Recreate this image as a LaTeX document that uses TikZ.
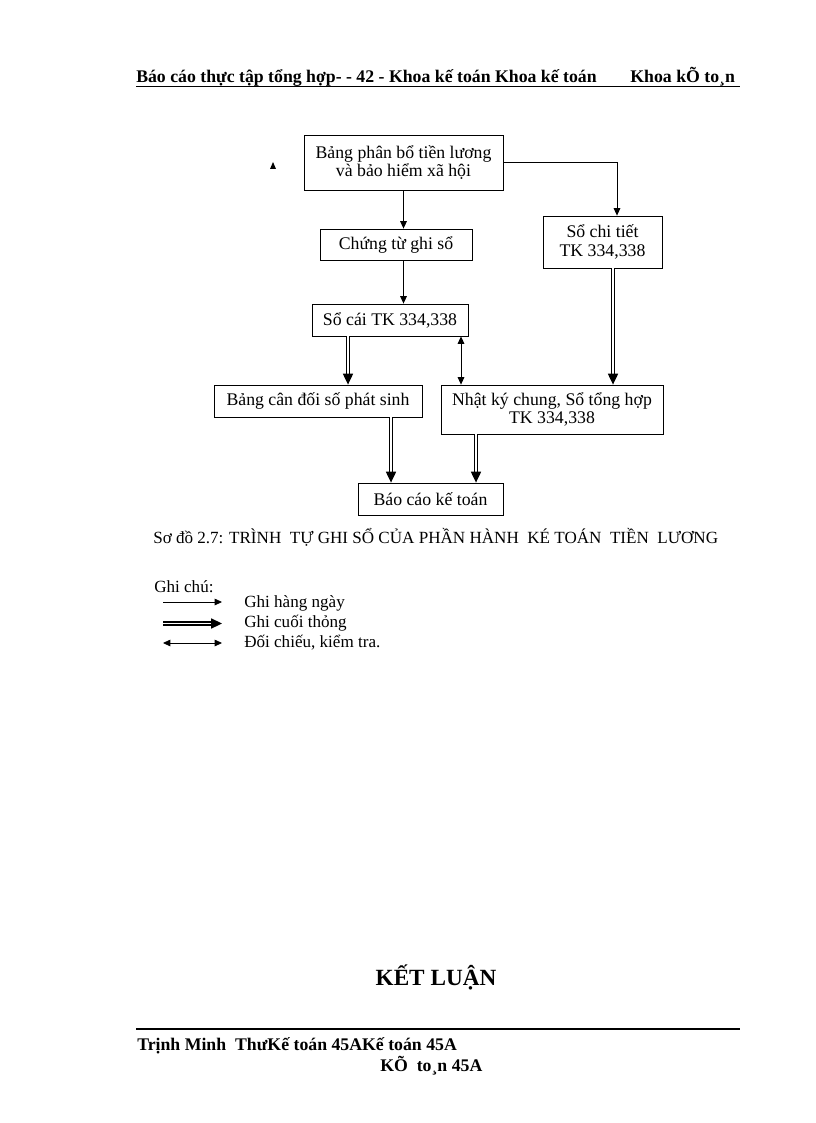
\documentclass[tikz,border=0pt]{standalone}
\usepackage{fontspec}
\setmainfont{Liberation Serif}
\usepackage{tikz}
\usetikzlibrary{arrows.meta,positioning}
\newcommand{\pxl}{0.25735mm}
\tikzset{ledger node/.style={draw, line width=0.6pt, inner sep=0pt, align=center,
    font=\fontsize{13}{13.5}\selectfont}}
\tikzset{daily edge/.style={draw, line width=0.6pt, -{Triangle[length=1.9mm,width=1.7mm]}}}
\tikzset{period edge/.style={draw, double, line width=0.33mm, double distance=0.38mm,
    -{Triangle[length=2.8mm,width=2.6mm]}}}
\tikzset{check edge/.style={draw, line width=0.6pt,
    {Triangle[length=1.9mm,width=1.7mm]}-{Triangle[length=1.9mm,width=1.7mm]}}}
\tikzset{comment/.style={inner sep=0pt, anchor=base west, font=\fontsize{12.5}{14}\selectfont}}
\tikzset{page text/.style={inner sep=0pt, anchor=base west, font=\fontsize{13}{14}\selectfont\bfseries}}

\begin{document}
\begin{tikzpicture}
      [x=\pxl, y=-\pxl]
      \fill [white] (0,0) rectangle (816,1123);

      % header and footer
      \node [page text] (head) at (136,83) {Báo cáo thực tập tổng hợp- - 42 - Khoa kế toán Khoa kế toán\hspace{1.9em}Khoa kÕ to¸n};
      \coordinate (headl) at (136,86);
      \coordinate (headr) at (740,86);
      \draw [line width=0.6pt] (headl) -- (headr);

      \node [page text, anchor=base, font=\fontsize{17}{18}\selectfont\bfseries] (concl) at (436,985) {KẾT LUẬN};

      \coordinate (footl) at (136,1029);
      \coordinate (footr) at (740,1029);
      \draw [line width=1.2pt] (footl) -- (footr);
      \node [page text] (foot1) at (137,1050) {Trịnh Minh\ \ ThưKế toán 45AKế toán 45A};
      \node [page text] (foot2) at (380,1071) {KÕ\ \ to¸n 45A};

      % ledgers
      \node [ledger node, minimum width=199*\pxl, minimum height=55*\pxl] (pbo)   at (403.5,162.5) {Bảng phân bổ tiền lương\\và bảo hiểm xã hội};
      \node [ledger node, minimum width=152*\pxl, minimum height=31*\pxl] (ctgs)  at (396,244.5)   {Chứng từ ghi sổ};
      \node [ledger node, minimum width=119*\pxl, minimum height=52*\pxl] (sct)   at (602.5,242)   {Sổ chi tiết\\TK 334,338};
      \node [ledger node, minimum width=156*\pxl, minimum height=32*\pxl] (socai) at (390,320)     {Sổ cái TK 334,338};
      \node [ledger node, minimum width=208*\pxl, minimum height=32*\pxl] (bcd)   at (318,401)     {Bảng\ cân đối số phát\ sinh};
      \node [ledger node, minimum width=222*\pxl, minimum height=49*\pxl] (nkc)   at (552,409.5)   {Nhật ký chung, Sổ tổng hợp\\TK\ 334,338};
      \node [ledger node, minimum width=145*\pxl, minimum height=32*\pxl] (bckt)  at (430.5,499)   {Báo cáo kế toán};

      \fill (270,169) -- (276,169) -- (273,162) -- cycle;

      \draw [daily edge]  (pbo.south)                  -- (pbo.south |- ctgs.north);
      \draw [daily edge]  (pbo.east)                   -| ([xshift=14.5*\pxl]sct.north);
      \draw [daily edge]  (ctgs.south -| pbo.south)    -- (socai.north -| pbo.south);
      \draw [period edge] ([xshift=-42*\pxl]socai.south) -- ([xshift=-42*\pxl]socai.south |- bcd.north);
      \draw [check edge]  ([xshift=71*\pxl]socai.south)  -- ([xshift=71*\pxl]socai.south |- nkc.north);
      \draw [period edge] ([xshift=10.5*\pxl]sct.south)  -- ([xshift=10.5*\pxl]sct.south |- nkc.north);
      \draw [period edge] ([xshift=73*\pxl]bcd.south)    -- ([xshift=73*\pxl]bcd.south |- bckt.north);
      \draw [period edge] ([xshift=-76*\pxl]nkc.south)   -- ([xshift=-76*\pxl]nkc.south |- bckt.north);

      % caption and legend
      \node [comment, font=\fontsize{12.5}{14}\selectfont] (title) at (153,543) {Sơ đồ 2.7: TRÌNH\ \ TỰ GHI SỔ CỦA PHẦN HÀNH\ \ KÉ TOÁN\ \ TIỀN\ \ LƯƠNG};
      \node [comment] (note) at (154,592) {Ghi chú:};

      \coordinate (d1) at (163,602);   \coordinate (d2) at (222,602);
      \coordinate (p1) at (163,623.5); \coordinate (p2) at (222,623.5);
      \coordinate (c1) at (163,643);   \coordinate (c2) at (222,643);
      \draw [daily edge]  (d1) -- (d2);
      \draw [period edge] (p1) -- (p2);
      \draw [check edge]  (c1) -- (c2);
      \node [comment] (daily)  at (244,607) {Ghi hàng ngày};
      \node [comment] (period) at (244,627) {Ghi cuối thỏng};
      \node [comment] (check)  at (244,647) {Đối chiếu, kiểm tra.};
\end{tikzpicture}
\end{document}
